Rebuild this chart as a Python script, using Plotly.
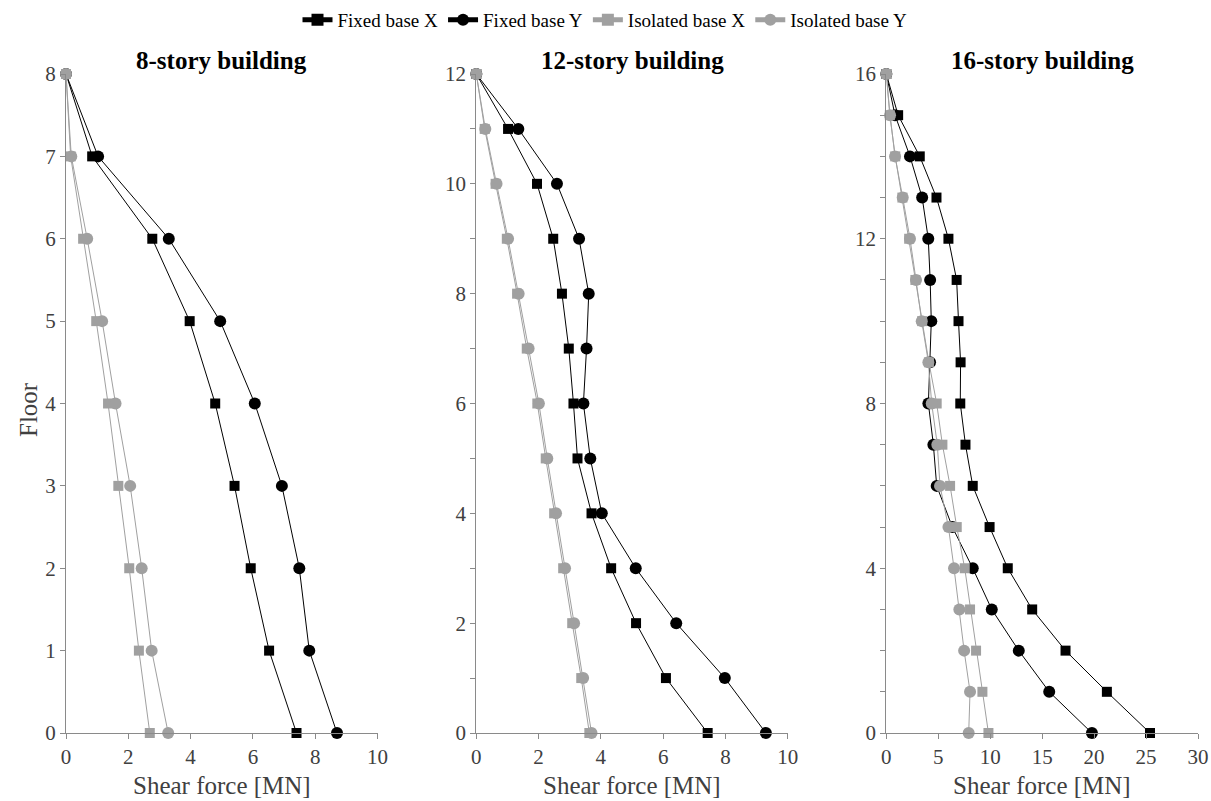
import plotly.graph_objects as go

# ---------------- data ----------------
floors8 = [0, 1, 2, 3, 4, 5, 6, 7, 8]
fixed_x_8 = [7.40, 6.52, 5.93, 5.41, 4.79, 3.97, 2.77, 0.84, 0.0]
fixed_y_8 = [8.70, 7.81, 7.49, 6.93, 6.06, 4.95, 3.30, 1.03, 0.0]
iso_x_8 = [2.69, 2.34, 2.03, 1.68, 1.35, 0.97, 0.55, 0.15, 0.0]
iso_y_8 = [3.28, 2.75, 2.43, 2.06, 1.59, 1.16, 0.68, 0.17, 0.0]

floors12 = [0, 1, 2, 3, 4, 5, 6, 7, 8, 9, 10, 11, 12]
fixed_x_12 = [7.43, 6.09, 5.13, 4.33, 3.70, 3.25, 3.12, 2.97, 2.75, 2.47, 1.95, 1.02, 0.0]
fixed_y_12 = [9.30, 7.98, 6.42, 5.12, 4.03, 3.66, 3.44, 3.54, 3.61, 3.30, 2.59, 1.35, 0.0]
iso_x_12 = [3.63, 3.37, 3.08, 2.79, 2.50, 2.23, 1.96, 1.62, 1.31, 0.98, 0.62, 0.27, 0.0]
iso_y_12 = [3.70, 3.43, 3.14, 2.85, 2.56, 2.28, 2.01, 1.68, 1.36, 1.02, 0.65, 0.29, 0.0]

floors16 = [0, 1, 2, 3, 4, 5, 6, 7, 8, 9, 10, 11, 12, 13, 14, 15, 16]
fixed_x_16 = [25.38, 21.23, 17.25, 14.04, 11.69, 9.94, 8.32, 7.62, 7.12, 7.15, 6.95, 6.77, 5.98, 4.83, 3.22, 1.14, 0.0]
fixed_y_16 = [19.79, 15.68, 12.75, 10.15, 8.32, 6.36, 4.85, 4.53, 4.05, 4.21, 4.33, 4.22, 4.04, 3.45, 2.28, 0.84, 0.0]
iso_x_16 = [9.83, 9.25, 8.64, 8.06, 7.55, 6.78, 6.14, 5.40, 4.85, 4.10, 3.45, 2.80, 2.20, 1.55, 0.86, 0.34, 0.0]
iso_y_16 = [7.93, 8.06, 7.49, 7.03, 6.52, 5.98, 5.17, 4.91, 4.37, 4.05, 3.41, 2.86, 2.28, 1.58, 0.84, 0.36, 0.0]

series_names = ["Fixed base X", "Fixed base Y", "Isolated base X", "Isolated base Y"]
panel_titles = ["8-story building", "12-story building", "16-story building"]
x_ranges = [[0, 10], [0, 10], [0, 30]]
x_dticks = [2, 2, 5]
y_tops = [8, 12, 16]
y_label_steps = [1, 2, 4]

panels = [
    (floors8, [fixed_x_8, fixed_y_8, iso_x_8, iso_y_8]),
    (floors12, [fixed_x_12, fixed_y_12, iso_x_12, iso_y_12]),
    (floors16, [fixed_x_16, fixed_y_16, iso_x_16, iso_y_16]),
]

# ---------------- styles ----------------
BLACK = "#000000"
GRAY = "#a0a0a0"
AXIS = "#8a8a8a"
TICK_FONT = dict(family="Liberation Serif", size=21, color="#404040")
TITLE_FONT = dict(family="Liberation Serif", size=25, color="#404040")
styles = [
    dict(color=BLACK, symbol="square", size=10),
    dict(color=BLACK, symbol="circle", size=12),
    dict(color=GRAY, symbol="square", size=10),
    dict(color=GRAY, symbol="circle", size=12),
]

W, H = 1211, 801
L, R, T, B = 66, 13, 74, 68
pw = W - L - R
ph = H - T - B
domains = [
    [0.0, (377.5 - L) / pw],
    [(476.3 - L) / pw, (787.7 - L) / pw],
    [(886.3 - L) / pw, 1.0],
]

fig = go.Figure()
for p, (floors, series) in enumerate(panels):
    xa = "x" if p == 0 else f"x{p+1}"
    ya = "y" if p == 0 else f"y{p+1}"
    for s, vals in enumerate(series):
        st = styles[s]
        fig.add_trace(go.Scatter(
            x=vals, y=floors, xaxis=xa, yaxis=ya,
            mode="lines+markers", name=series_names[s],
            legendgroup=series_names[s], showlegend=(p == 0),
            line=dict(color=st["color"], width=1),
            marker=dict(color=st["color"], symbol=st["symbol"], size=st["size"]),
            cliponaxis=False,
        ))

    top = y_tops[p]
    tickvals = list(range(0, top + 1))
    ticktext = [str(v) if v % y_label_steps[p] == 0 else "" for v in tickvals]
    xkey = "xaxis" if p == 0 else f"xaxis{p+1}"
    ykey = "yaxis" if p == 0 else f"yaxis{p+1}"
    fig.update_layout(**{
        xkey: dict(
            domain=domains[p], anchor=ya, range=x_ranges[p], dtick=x_dticks[p], tick0=0,
            showgrid=False, zeroline=False, showline=True, linecolor=AXIS, linewidth=1,
            ticks="outside", ticklen=5, tickcolor=AXIS, tickfont=TICK_FONT,
            automargin=False,
        ),
        ykey: dict(
            domain=[0, 1], anchor=xa, range=[0, top], tickmode="array",
            tickvals=tickvals, ticktext=ticktext,
            showgrid=False, zeroline=False, showline=True, linecolor=AXIS, linewidth=1,
            ticks="outside", ticklen=5, tickcolor=AXIS, tickfont=TICK_FONT,
            automargin=False,
        ),
    })
    xc = (domains[p][0] + domains[p][1]) / 2
    fig.add_annotation(
        text=f"<b>{panel_titles[p]}</b>", xref="paper", yref="paper",
        x=xc, y=1 + (T - 60) / ph,
        xanchor="center", yanchor="middle", showarrow=False,
        font=dict(family="Liberation Serif", size=25, color="#000000"),
    )
    fig.add_annotation(
        text="Shear force [MN]", xref="paper", yref="paper",
        x=xc, y=-(786 - (H - B)) / ph,
        xanchor="center", yanchor="middle", showarrow=False,
        font=TITLE_FONT,
    )

fig.add_annotation(
    text="Floor", xref="paper", yref="paper",
    x=(28 - L) / pw, y=(H - B - 410) / ph, textangle=-90,
    xanchor="center", yanchor="middle", showarrow=False,
    font=TITLE_FONT,
)

fig.update_layout(
    width=W, height=H,
    margin=dict(l=L, r=R, t=T, b=B, autoexpand=False),
    paper_bgcolor="white", plot_bgcolor="white",
    font=dict(family="Liberation Serif", size=19, color="#000000"),
    legend=dict(
        orientation="h", x=(605 - L) / pw, xanchor="center",
        y=1 + (T - 20) / ph, yanchor="middle",
        font=dict(family="Liberation Serif", size=19, color="#000000"),
        itemwidth=30, tracegroupgap=0, itemsizing="constant",
    ),
)

fig.write_html(
    "out.html",
    config={"displayModeBar": False},
    post_script="document.body.style.margin='0';document.body.style.overflow='hidden';",
)
